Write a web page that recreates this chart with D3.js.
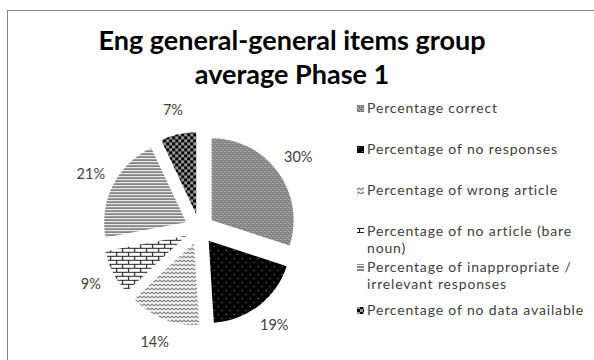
<!DOCTYPE html>
<html>
<head>
<meta charset="utf-8">
<script src="https://cdn.jsdelivr.net/npm/d3@7"></script>
<style>
  html, body { margin: 0; padding: 0; background: #fff; }
  svg { display: block; }
  text { font-family: Lato, "Open Sans", sans-serif; }
</style>
</head>
<body>
<svg id="chart" width="594" height="360"></svg>
<script>
// Response categories and their share of answers (percent)
const categories = [
  "Percentage correct",
  "Percentage of no responses",
  "Percentage of wrong article",
  "Percentage of no article (bare noun)",
  "Percentage of inappropriate / irrelevant responses",
  "Percentage of no data available"
];
const values = [30, 19, 14, 9, 21, 7];
// Legend text, wrapped as it appears in the legend
const legendLines = [
  ["Percentage correct"],
  ["Percentage of no responses"],
  ["Percentage of wrong article"],
  ["Percentage of no article (bare", "noun)"],
  ["Percentage of inappropriate /", "irrelevant responses"],
  ["Percentage of no data available"]
];
const titleLines = ["Eng general-general items group", "average Phase 1"];

const svg = d3.select("#chart");
const defs = svg.append("defs");

// Fill patterns for each slice
function pat(id, w, h, draw) {
  const p = defs.append("pattern").attr("id", id)
    .attr("patternUnits", "userSpaceOnUse").attr("width", w).attr("height", h);
  draw(p);
}
// 0: fine gray weave with light dots
pat("p0", 4, 4, p => {
  p.append("rect").attr("width", 4).attr("height", 4).attr("fill", "#8c8c8c");
  p.append("rect").attr("x", 0).attr("y", 0).attr("width", 1).attr("height", 1).attr("fill", "#5e5e5e");
  p.append("rect").attr("x", 2).attr("y", 2).attr("width", 1).attr("height", 1).attr("fill", "#5e5e5e");
  p.append("rect").attr("x", 1).attr("y", 3).attr("width", 1).attr("height", 1).attr("fill", "#d8d8d8");
  p.append("rect").attr("x", 3).attr("y", 1).attr("width", 1).attr("height", 1).attr("fill", "#b8b8b8");
});
// 1: black with sparse white dots
pat("p1", 8, 8, p => {
  p.append("rect").attr("width", 8).attr("height", 8).attr("fill", "#000");
  p.append("rect").attr("x", 1).attr("y", 1).attr("width", 1).attr("height", 1).attr("fill", "#bbb");
  p.append("rect").attr("x", 5).attr("y", 5).attr("width", 1).attr("height", 1).attr("fill", "#999");
});
// 2: zigzag
pat("p2", 4, 4, p => {
  p.append("rect").attr("width", 4).attr("height", 4).attr("fill", "#fff");
  p.append("path").attr("d", "M0,3 L2,1 L4,3").attr("fill", "none")
    .attr("stroke", "#7a7a7a").attr("stroke-width", 1.1);
});
// 3: brick
pat("p3", 12, 8, p => {
  p.append("rect").attr("width", 12).attr("height", 8).attr("fill", "#fff");
  p.append("path").attr("d", "M0,0.5 H12 M0,4.5 H12 M2.5,0 V4 M8.5,4 V8")
    .attr("stroke", "#222").attr("stroke-width", 1.2);
});
// 4: horizontal lines
pat("p4", 4, 3, p => {
  p.append("rect").attr("width", 4).attr("height", 3).attr("fill", "#fff");
  p.append("path").attr("d", "M0,1 H4").attr("stroke", "#333").attr("stroke-width", 1.2);
});
// 5: large check
pat("p5", 6, 6, p => {
  p.append("rect").attr("width", 6).attr("height", 6).attr("fill", "#999");
  p.append("rect").attr("x", 0).attr("y", 0).attr("width", 3).attr("height", 3).attr("fill", "#000");
  p.append("rect").attr("x", 3).attr("y", 3).attr("width", 3).attr("height", 3).attr("fill", "#000");
});
const fills = categories.map((c, i) => `url(#p${i})`);

// Chart area border
svg.append("rect").attr("x", 7.5).attr("y", 10.5).attr("width", 600).attr("height", 360)
  .attr("fill", "none").attr("stroke", "#868686").attr("stroke-width", 1);

// Title
svg.append("g").selectAll("text").data(titleLines).join("text")
  .attr("x", 292).attr("y", (d, i) => 50 + i * 34)
  .attr("text-anchor", "middle").attr("font-size", 27).attr("font-weight", "bold")
  .attr("fill", "#000").text(d => d);

// Exploded pie
const cx = 199.5, cy = 229, r = 82, explode = 15;
const pie = d3.pie().sort(null).value(d => d);
const arc = d3.arc().innerRadius(0).outerRadius(r);
const arcs = pie(values);
const g = svg.append("g").attr("transform", `translate(${cx},${cy})`);
g.selectAll("path").data(arcs).join("path")
  .attr("transform", d => {
    const a = (d.startAngle + d.endAngle) / 2;
    return `translate(${explode * Math.sin(a)},${-explode * Math.cos(a)})`;
  })
  .attr("d", arc)
  .attr("fill", (d, i) => fills[i]);

// Percentage labels outside each slice
const labelR = r + explode + 25;
g.selectAll("text.lbl").data(arcs).join("text").attr("class", "lbl")
  .attr("x", d => labelR * Math.sin((d.startAngle + d.endAngle) / 2))
  .attr("y", d => -labelR * Math.cos((d.startAngle + d.endAngle) / 2) + 5)
  .attr("text-anchor", "middle").attr("font-size", 14.5).attr("fill", "#404040")
  .text(d => d.data + "%");

// Legend
const legendY = [113, 154, 195, 236, 272, 315];
const lineGap = 17;
const lg = svg.append("g");
legendLines.forEach((lines, i) => {
  const item = lg.append("g").attr("transform", `translate(357,${legendY[i]})`);
  item.append("rect").attr("x", 0).attr("y", -8).attr("width", 7).attr("height", 7)
    .attr("fill", fills[i]);
  item.selectAll("text").data(lines).join("text")
    .attr("x", 10).attr("y", (d, j) => j * lineGap)
    .attr("font-size", 14).attr("letter-spacing", 0.85)
    .attr("fill", "#404040").text(d => d);
});
</script>
</body>
</html>
